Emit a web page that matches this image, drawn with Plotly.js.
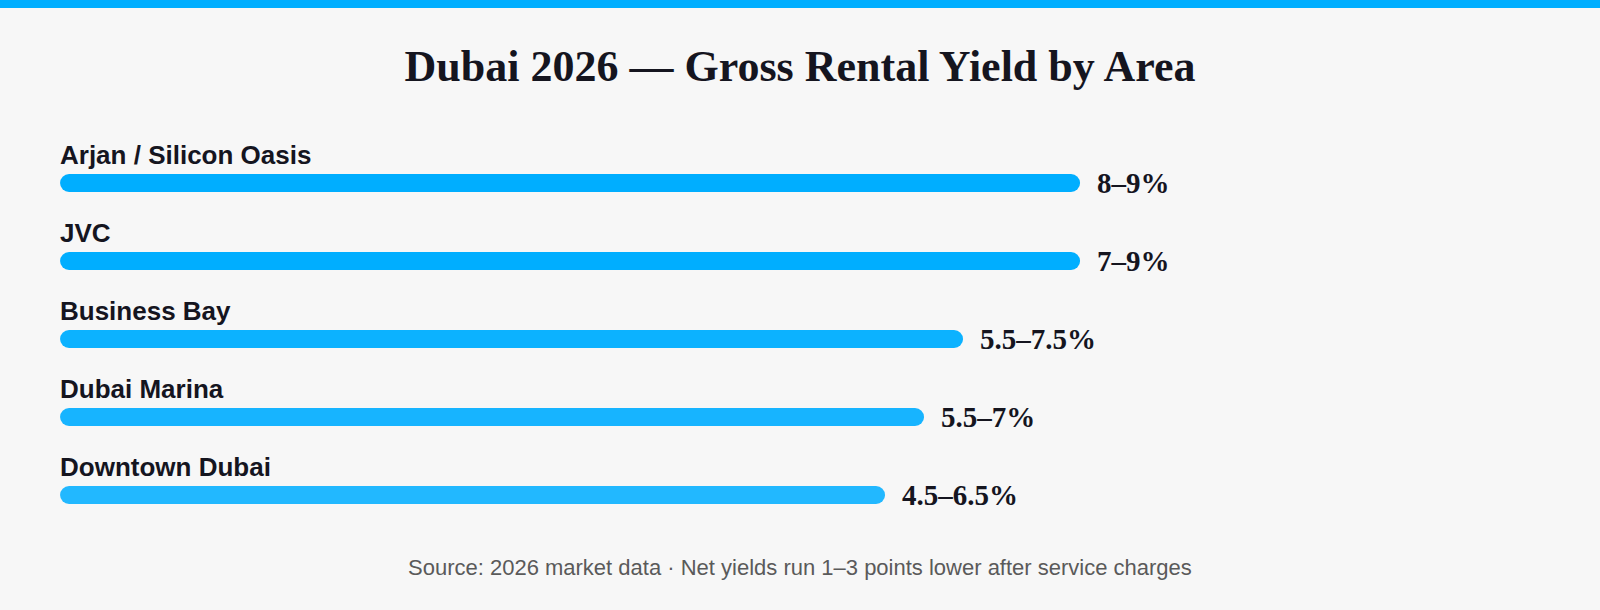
<!DOCTYPE html>
<html>
<head>
<meta charset="utf-8">
<script src="https://cdn.plot.ly/plotly-3.0.1.min.js"></script>
<style>
  html, body { margin: 0; padding: 0; background: #f7f7f7; }
  #chart { width: 1600px; height: 610px; }
  #chart .scatterlayer .js-line { stroke-linecap: round; }
</style>
</head>
<body>
<div id="chart"></div>
<script>
// ---- data ----
const areas = ["Arjan / Silicon Oasis", "JVC", "Business Bay", "Dubai Marina", "Downtown Dubai"];
const yieldLow = [8, 7, 5.5, 5.5, 4.5];
const yieldHigh = [9, 9, 7.5, 7, 6.5];
const yieldLabels = ["8–9%", "7–9%", "5.5–7.5%", "5.5–7%", "4.5–6.5%"];

// ---- style ----
const barColors = ["#00AEFF", "#00AEFF", "#0CB2FF", "#17B4FF", "#22B8FF"];
const TRACK_START = -3.846;   // left origin of the bar track (layout)
const X_RANGE = [-3.962, 15.012];

const traces = areas.map((a, i) => ({
  type: "scatter",
  mode: "lines",
  x: [TRACK_START, yieldHigh[i]],
  y: [i, i],
  line: { color: barColors[i], width: 18 },
  hoverinfo: "skip",
  showlegend: false
}));

const annotations = [];
areas.forEach((a, i) => {
  annotations.push({
    xref: "paper", yref: "y", x: 0, y: i,
    xanchor: "left", yanchor: "middle", yshift: 28, xshift: -2,
    text: "<b>" + a + "</b>", showarrow: false,
    font: { family: "Liberation Sans, Arial, sans-serif", size: 26, color: "#15151f" }
  });
  annotations.push({
    xref: "x", yref: "y", x: yieldHigh[i], y: i,
    xanchor: "left", yanchor: "middle", xshift: 24, yshift: 0,
    text: "<b>" + yieldLabels[i] + "</b>", showarrow: false,
    font: { family: "Georgia, Liberation Serif, serif", size: 29, color: "#15151f" }
  });
});
annotations.push({
  xref: "paper", yref: "paper", x: 0.5, y: 0.0107,
  xanchor: "center", yanchor: "middle",
  xshift: 0,
  text: "Source: 2026 market data · Net yields run 1–3 points lower after service charges",
  showarrow: false,
  font: { family: "Liberation Sans, Arial, sans-serif", size: 22, color: "#5a5a5a" }
});

const layout = {
  width: 1600, height: 610,
  paper_bgcolor: "#f7f7f7", plot_bgcolor: "#f7f7f7",
  margin: { l: 60, r: 60, t: 105, b: 37 },
  title: {
    text: "<b>Dubai 2026 — Gross Rental Yield by Area</b>",
    font: { family: "Georgia, Liberation Serif, serif", size: 44, color: "#15151f" },
    x: 0.5, xanchor: "center", xref: "container",
    y: 1 - 66 / 610, yanchor: "middle", yref: "container"
  },
  xaxis: { range: X_RANGE, visible: false, fixedrange: true },
  yaxis: { range: [5, -1], visible: false, fixedrange: true },
  shapes: [{
    type: "rect", xref: "paper", yref: "paper",
    x0: -60 / 1480, x1: 1 + 60 / 1480,
    y0: (573 - 8) / 468, y1: 573 / 468,
    fillcolor: "#00AEFF", line: { width: 0 }, layer: "above"
  }],
  annotations: annotations
};

Plotly.newPlot("chart", traces, layout, { displayModeBar: false, staticPlot: true });
</script>
</body>
</html>
